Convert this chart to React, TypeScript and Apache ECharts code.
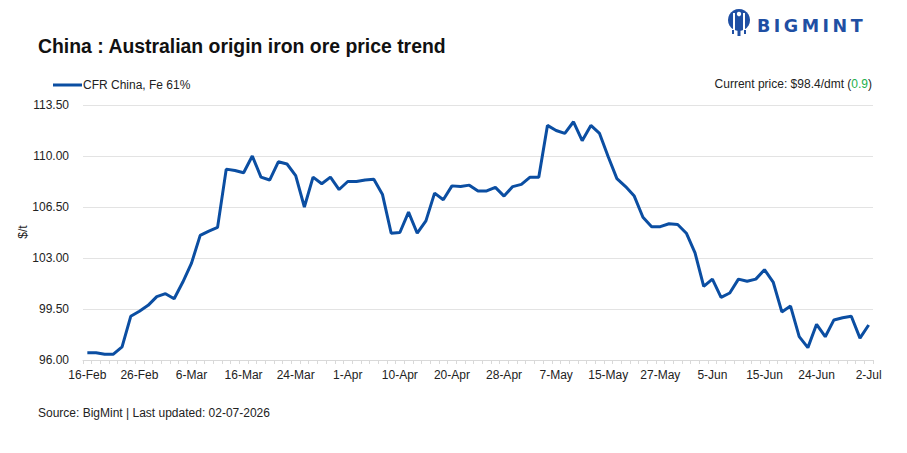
import React, { useEffect, useRef } from "react";
import * as echarts from "echarts";

const dates = [
  "16-Feb","19-Feb","20-Feb","23-Feb","24-Feb","25-Feb","26-Feb","27-Feb","2-Mar","3-Mar",
  "4-Mar","5-Mar","6-Mar","9-Mar","10-Mar","11-Mar","12-Mar","13-Mar","16-Mar","17-Mar",
  "18-Mar","19-Mar","20-Mar","23-Mar","24-Mar","25-Mar","26-Mar","27-Mar","30-Mar","31-Mar",
  "1-Apr","2-Apr","6-Apr","7-Apr","8-Apr","9-Apr","10-Apr","13-Apr","14-Apr","15-Apr",
  "16-Apr","17-Apr","20-Apr","21-Apr","22-Apr","23-Apr","24-Apr","27-Apr","28-Apr","29-Apr",
  "30-Apr","4-May","5-May","6-May","7-May","8-May","11-May","12-May","13-May","14-May",
  "15-May","18-May","20-May","21-May","22-May","26-May","27-May","28-May","1-Jun","2-Jun",
  "3-Jun","4-Jun","5-Jun","8-Jun","9-Jun","10-Jun","11-Jun","12-Jun","15-Jun","16-Jun",
  "17-Jun","18-Jun","22-Jun","23-Jun","24-Jun","25-Jun","26-Jun","29-Jun","30-Jun","1-Jul",
  "2-Jul",
];

const prices = [
  96.5, 96.5, 96.4, 96.4, 96.9, 99.0, 99.35, 99.75, 100.35, 100.55,
  100.2, 101.35, 102.65, 104.55, 104.85, 105.1, 109.1, 109.0, 108.85, 110.0,
  108.55, 108.35, 109.6, 109.45, 108.65, 106.5, 108.55, 108.1, 108.55, 107.7,
  108.25, 108.25, 108.35, 108.4, 107.35, 104.7, 104.75, 106.15, 104.7, 105.55,
  107.45, 107.0, 107.95, 107.9, 108.0, 107.6, 107.6, 107.85, 107.25, 107.9,
  108.05, 108.55, 108.55, 112.1, 111.75, 111.55, 112.35, 111.05, 112.1, 111.55,
  109.95, 108.45, 107.9, 107.25, 105.8, 105.15, 105.15, 105.35, 105.3, 104.7,
  103.35, 101.05, 101.55, 100.3, 100.6, 101.55, 101.4, 101.55, 102.2, 101.35,
  99.3, 99.7, 97.6, 96.85, 98.45, 97.6, 98.75, 98.9, 99.0, 97.5,
  98.4,
];

const seriesName = "CFR China, Fe 61%";
const titleText = "China : Australian origin iron ore price trend";
const sourceText = "Source: BigMint | Last updated: 02-07-2026";
const currentPrice = "$98.4/dmt";
const currentChange = "0.9";
const yMin = 96;
const yMax = 113.5;
const yStep = 3.5;

export default function App() {
  const ref = useRef<HTMLDivElement>(null);
  useEffect(() => {
    document.body.style.margin = "0";
    if (!ref.current) return;
    const chart = echarts.init(ref.current, null, { renderer: "svg" });
    const blue = "#0b4ea2";
    const labelFont = "'Liberation Sans', Arial, sans-serif";
    chart.setOption({
      animation: false,
      backgroundColor: "#ffffff",
      grid: { left: 83, right: 34, top: 105, bottom: 93, containLabel: false },
      legend: {
        left: 48,
        top: 74,
        icon: "rect",
        itemWidth: 29,
        itemHeight: 3,
        itemGap: 10,
        textStyle: { fontFamily: labelFont, fontSize: 12, color: "#222", padding: [0, 0, 0, -4] },
        data: [seriesName],
      },
      xAxis: {
        type: "category",
        data: dates,
        boundaryGap: true,
        axisLine: { show: true, lineStyle: { color: "#d9d9d9", width: 1 } },
        axisTick: { show: true, interval: 0, length: 4, lineStyle: { color: "#d9d9d9" } },
        axisLabel: {
          interval: 5,
          margin: 9,
          fontFamily: labelFont,
          fontSize: 12,
          color: "#222",
        },
        splitLine: { show: false },
      },
      yAxis: {
        type: "value",
        min: 0,
        max: yMax - yMin,
        interval: yStep,
        axisLine: { show: false },
        axisTick: { show: false },
        axisLabel: {
          margin: 14,
          fontFamily: labelFont,
          fontSize: 12,
          color: "#222",
          formatter: (v: number) => (v + yMin).toFixed(2),
        },
        splitLine: { show: true, lineStyle: { color: "#e3e3e3", width: 1 } },
      },
      series: [
        {
          name: seriesName,
          type: "line",
          data: prices.map((p) => +(p - yMin).toFixed(4)),
          symbol: "none",
          lineStyle: { color: blue, width: 3 },
          itemStyle: { color: blue },
        },
      ],
      graphic: [
        {
          type: "text",
          x: 38,
          y: 46,
          style: {
            text: titleText,
            verticalAlign: "middle",
            fontFamily: "'Liberation Sans', Arial, sans-serif",
            fontWeight: "bold",
            fontSize: 19.4,
            fill: "#111",
          },
        },
        {
          type: "text",
          x: 872,
          y: 84,
          style: {
            text: `{a|Current price: ${currentPrice} (}{g|${currentChange}}{a|)}`,
            align: "right",
            verticalAlign: "middle",
            rich: {
              a: { fontFamily: labelFont, fontSize: 12, fill: "#222" },
              g: { fontFamily: labelFont, fontSize: 12, fill: "#22b14c" },
            },
          },
        },
        {
          type: "text",
          x: 23,
          y: 232,
          rotation: Math.PI / 2,
          style: {
            text: "$/t",
            align: "center",
            verticalAlign: "middle",
            fontFamily: labelFont,
            fontSize: 12,
            fill: "#222",
          },
        },
        {
          type: "text",
          x: 38,
          y: 413,
          style: {
            text: sourceText,
            verticalAlign: "middle",
            fontFamily: labelFont,
            fontSize: 12,
            fill: "#222",
          },
        },
        // logo
        {
          type: "group",
          children: [
            { type: "circle", shape: { cx: 739, cy: 20, r: 11 }, style: { fill: "#1f4fa3" } },
            { type: "rect", shape: { x: 733, y: 13, width: 2, height: 18 }, style: { fill: "#fff" } },
            { type: "rect", shape: { x: 743, y: 13, width: 2, height: 18 }, style: { fill: "#fff" } },
            { type: "circle", shape: { cx: 739, cy: 14, r: 2.2 }, style: { fill: "#fff" } },
            { type: "rect", shape: { x: 737.5, y: 29, width: 3, height: 7 }, style: { fill: "#1f4fa3" } },
            { type: "rect", shape: { x: 732, y: 30, width: 2, height: 4 }, style: { fill: "#1f4fa3" } },
            { type: "rect", shape: { x: 744, y: 30, width: 2, height: 4 }, style: { fill: "#1f4fa3" } },
            {
              type: "text",
              x: 757,
              y: 26,
              style: {
                text: "B\u2009I\u2009G\u2009M\u2009I\u2009N\u2009T",
                verticalAlign: "middle",
                fontFamily: "'DejaVu Sans', sans-serif",
                fontWeight: "bold",
                fontSize: 17.5,
                fill: "#1f4fa3",
              },
            },
          ],
        },
      ],
    });
    return () => chart.dispose();
  }, []);
  return <div ref={ref} style={{ width: 907, height: 453 }} />;
}
